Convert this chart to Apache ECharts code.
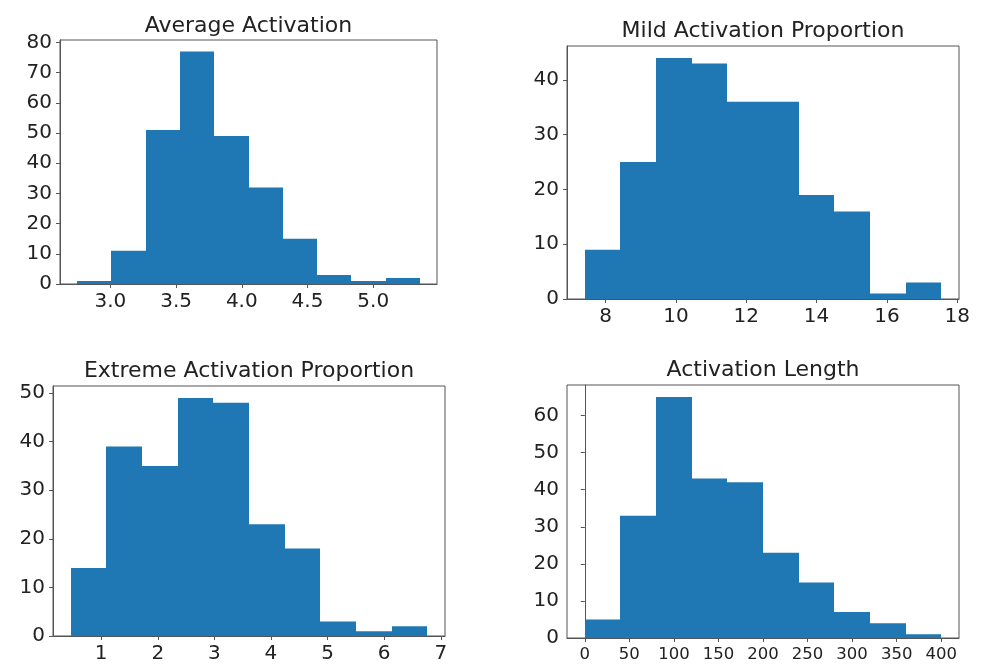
<!DOCTYPE html>
<html>
<head>
<meta charset="utf-8">
<script src="https://cdn.jsdelivr.net/npm/echarts@6/dist/echarts.min.js"></script>
<style>
  html, body { margin: 0; padding: 0; background: #ffffff; }
  #chart { width: 981px; height: 664px; }
</style>
</head>
<body>
<div id="chart"></div>
<script>
// ---- Data ----
const titles = ["Average Activation", "Mild Activation Proportion", "Extreme Activation Proportion", "Activation Length"];

// Panel 1: Average Activation
const avgEdges  = [2.747, 3.008, 3.269, 3.529, 3.790, 4.051, 4.312, 4.573, 4.833, 5.094, 5.355];
const avgCounts = [1, 11, 51, 77, 49, 32, 15, 3, 1, 2];
const avgXTicks = [3.0, 3.5, 4.0, 4.5, 5.0];
const avgYTicks = [0, 10, 20, 30, 40, 50, 60, 70, 80];

// Panel 2: Mild Activation Proportion
const mildEdges  = [7.41, 8.42, 9.44, 10.45, 11.46, 12.48, 13.49, 14.50, 15.51, 16.53, 17.54];
const mildCounts = [9, 25, 44, 43, 36, 36, 19, 16, 1, 3];
const mildXTicks = [8, 10, 12, 14, 16, 18];
const mildYTicks = [0, 10, 20, 30, 40];

// Panel 3: Extreme Activation Proportion
const extEdges  = [0.463, 1.093, 1.723, 2.352, 2.982, 3.612, 4.241, 4.871, 5.501, 6.130, 6.760];
const extCounts = [14, 39, 35, 49, 48, 23, 18, 3, 1, 2];
const extXTicks = [1, 2, 3, 4, 5, 6, 7];
const extYTicks = [0, 10, 20, 30, 40, 50];

// Panel 4: Activation Length
const lenEdges  = [0, 40, 80, 120, 160, 200, 240, 280, 320, 360, 400];
const lenCounts = [5, 33, 65, 43, 42, 23, 15, 7, 4, 1];
const lenXTicks = [0, 50, 100, 150, 200, 250, 300, 350, 400];
const lenYTicks = [0, 10, 20, 30, 40, 50, 60];

// ---- Layout / style ----
const FONT = "DejaVu Sans";
const BAR = "#1f77b4";
const FRAME = "#555555";
const TEXT = "#222222";

const panels = [
  { edges: avgEdges,  counts: avgCounts,  xt: avgXTicks,  yt: avgYTicks,  xr: [2.617, 5.485], ymax: 80.85,
    grid: { left: 60,  top: 40,  width: 377, height: 244 }, xfmt: v => v.toFixed(1), xfs: 20, title: [248.5, 15] },
  { edges: mildEdges, counts: mildCounts, xt: mildXTicks, yt: mildYTicks, xr: [6.903, 18.05], ymax: 46.2,
    grid: { left: 567, top: 46,  width: 392, height: 253 }, xfmt: v => String(v), xfs: 20, title: [763, 20] },
  { edges: extEdges,  counts: extCounts,  xt: extXTicks,  yt: extYTicks,  xr: [0.148, 7.075], ymax: 51.45,
    grid: { left: 53,  top: 386, width: 392, height: 252 }, xfmt: v => String(v), xfs: 20, title: [249, 360] },
  { edges: lenEdges,  counts: lenCounts,  xt: lenXTicks,  yt: lenYTicks,  xr: [-20, 420], ymax: 68.25,
    grid: { left: 567, top: 385, width: 392, height: 253 }, xfmt: v => String(v), xfs: 16.5, title: [763, 359.5] }
];

const option = {
  backgroundColor: "#ffffff",
  animation: false,
  title: [],
  grid: [],
  xAxis: [],
  yAxis: [],
  series: []
};

panels.forEach((p, i) => {
  option.title.push({
    text: titles[i],
    left: p.title[0],
    top: p.title[1],
    textAlign: "center",
    padding: 0,
    textStyle: { fontFamily: FONT, fontSize: 22, fontWeight: "normal", color: TEXT }
  });
  option.grid.push(Object.assign({ show: true, borderColor: FRAME, borderWidth: 1, backgroundColor: "transparent", containLabel: false }, p.grid));
  option.xAxis.push({
    type: "value", gridIndex: i, min: p.xr[0], max: p.xr[1],
    axisLine: { show: true, onZero: false, lineStyle: { color: FRAME, width: 1 } },
    axisTick: { show: true, inside: false, length: 4, lineStyle: { color: FRAME }, customValues: p.xt },
    axisLabel: { show: true, margin: 8, fontFamily: FONT, fontSize: p.xfs, color: TEXT, customValues: p.xt, formatter: p.xfmt, hideOverlap: false },
    splitLine: { show: false }
  });
  option.yAxis.push({
    type: "value", gridIndex: i, min: 0, max: p.ymax,
    axisLine: { show: true, lineStyle: { color: FRAME, width: 1 } },
    axisTick: { show: true, inside: false, length: 4, lineStyle: { color: FRAME }, customValues: p.yt },
    axisLabel: { show: true, margin: 8, fontFamily: FONT, fontSize: 20, color: TEXT, customValues: p.yt, hideOverlap: false },
    splitLine: { show: false }
  });
  const data = p.counts.map((c, k) => [p.edges[k], p.edges[k + 1], c]);
  option.series.push({
    type: "custom",
    xAxisIndex: i, yAxisIndex: i,
    encode: { x: [0, 1], y: 2 },
    data: data,
    renderItem: function (params, api) {
      const a = api.coord([api.value(0), 0]);
      const b = api.coord([api.value(1), api.value(2)]);
      const x0 = Math.round(a[0]), x1 = Math.round(b[0]);
      return {
        type: "rect",
        shape: { x: x0, y: b[1], width: x1 - x0, height: a[1] - b[1] },
        style: { fill: BAR, stroke: null }
      };
    }
  });
});

const chart = echarts.init(document.getElementById("chart"), null, { renderer: "canvas" });
chart.setOption(option);
</script>
</body>
</html>
